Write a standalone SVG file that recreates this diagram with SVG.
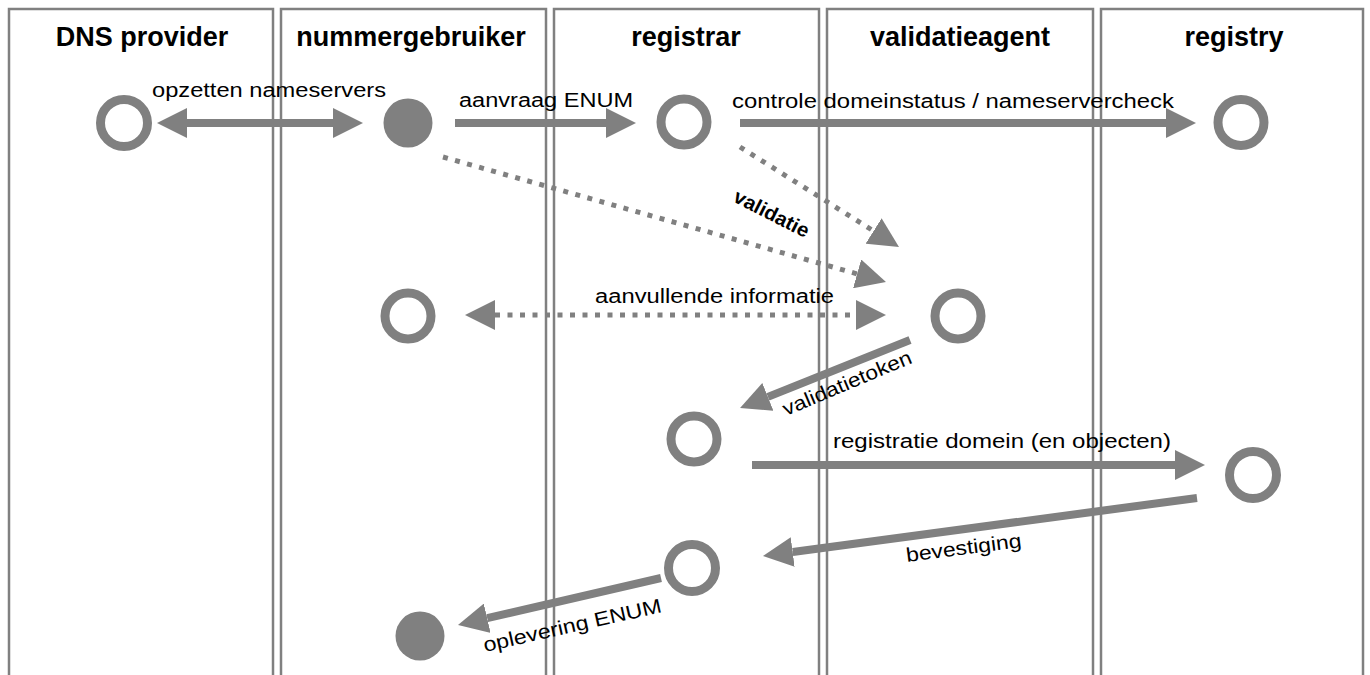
<svg xmlns="http://www.w3.org/2000/svg" width="1370" height="675" viewBox="0 0 1370 675">
<defs>
<style>
.lane{fill:none;stroke:#808080;stroke-width:2.5}
.hdr{font-family:"Liberation Sans",Arial,sans-serif;font-size:27px;font-weight:bold;fill:#000;text-anchor:middle}
.lbl{font-family:"Liberation Sans",Arial,sans-serif;font-size:20px;fill:#000}
.ring{fill:none;stroke:#808080;stroke-width:9}
.dot{fill:#808080}
.solid{fill:none;stroke:#808080;stroke-width:8}
.dash{fill:none;stroke:#808080;stroke-width:5;stroke-dasharray:5 7.5}
</style>
<marker id="ah" markerUnits="userSpaceOnUse" markerWidth="30" markerHeight="30" viewBox="0 0 30 30" refX="0" refY="15" orient="auto-start-reverse">
<path d="M0,0 L30,15 L0,30 z" fill="#808080"/>
</marker>
</defs>
<rect width="1370" height="675" fill="#fff"/>
<g id="lanes">
<g id="lane-dns"><rect class="lane" x="9" y="9" width="264" height="700"/><text class="hdr" x="142" y="46">DNS provider</text></g>
<g id="lane-nummergebruiker"><rect class="lane" x="281" y="9" width="265" height="700"/><text class="hdr" x="411" y="46">nummergebruiker</text></g>
<g id="lane-registrar"><rect class="lane" x="554" y="9" width="265" height="700"/><text class="hdr" x="686" y="46">registrar</text></g>
<g id="lane-validatieagent"><rect class="lane" x="827" y="9" width="266" height="700"/><text class="hdr" x="960" y="46">validatieagent</text></g>
<g id="lane-registry"><rect class="lane" x="1101" y="9" width="262" height="700"/><text class="hdr" x="1234" y="46">registry</text></g>
</g>
<g id="connectors">
<line class="solid" x1="187" y1="123" x2="333" y2="123" marker-start="url(#ah)" marker-end="url(#ah)"/>
<line class="solid" x1="455" y1="123" x2="606" y2="123" marker-end="url(#ah)"/>
<line class="solid" x1="740" y1="123" x2="1166" y2="123" marker-end="url(#ah)"/>
<line class="dash" x1="740" y1="147" x2="873.6" y2="231" marker-end="url(#ah)"/>
<line class="dash" x1="443" y1="157" x2="857.1" y2="273.9" marker-end="url(#ah)"/>
<line class="dash" x1="495" y1="315" x2="856" y2="315" marker-start="url(#ah)" marker-end="url(#ah)"/>
<line class="solid" x1="910" y1="340" x2="767.9" y2="396.9" marker-end="url(#ah)"/>
<line class="solid" x1="752" y1="465" x2="1175" y2="465" marker-end="url(#ah)"/>
<line class="solid" x1="1197" y1="498" x2="792.7" y2="552" marker-end="url(#ah)"/>
<line class="solid" x1="661" y1="578" x2="487.2" y2="618.2" marker-end="url(#ah)"/>
</g>
<g id="labels">
<text class="lbl" x="152" y="97" textLength="234" lengthAdjust="spacingAndGlyphs">opzetten nameservers</text>
<text class="lbl" x="459" y="107" textLength="174" lengthAdjust="spacingAndGlyphs">aanvraag ENUM</text>
<text class="lbl" x="732" y="108" textLength="442" lengthAdjust="spacingAndGlyphs">controle domeinstatus / nameservercheck</text>
<text class="lbl" x="0" y="0" font-size="16" font-weight="bold" textLength="82" lengthAdjust="spacingAndGlyphs" transform="translate(732,201) rotate(27)">validatie</text>
<text class="lbl" x="595" y="303" textLength="239" lengthAdjust="spacingAndGlyphs">aanvullende informatie</text>
<text class="lbl" x="0" y="0" font-size="18" textLength="138" lengthAdjust="spacingAndGlyphs" transform="translate(786,416) rotate(-22.8)">validatietoken</text>
<text class="lbl" x="833" y="448" textLength="338" lengthAdjust="spacingAndGlyphs">registratie domein (en objecten)</text>
<text class="lbl" x="0" y="0" font-size="19" textLength="116" lengthAdjust="spacingAndGlyphs" transform="translate(907,562) rotate(-7.4)">bevestiging</text>
<text class="lbl" x="0" y="0" font-size="21" textLength="182" lengthAdjust="spacingAndGlyphs" transform="translate(485,652) rotate(-12.7)">oplevering ENUM</text>
</g>
<g id="n-dns-1"><circle class="ring" cx="124" cy="123" r="23.5"/></g>
<g id="n-num-1"><circle class="dot" cx="408" cy="123" r="24.5"/></g>
<g id="n-reg-1"><circle class="ring" cx="684" cy="122" r="23"/></g>
<g id="n-registry-1"><circle class="ring" cx="1241" cy="122.5" r="23"/></g>
<g id="n-num-2"><circle class="ring" cx="408" cy="316" r="23"/></g>
<g id="n-val-1"><circle class="ring" cx="958" cy="316" r="23"/></g>
<g id="n-reg-2"><circle class="ring" cx="694" cy="439" r="23"/></g>
<g id="n-registry-2"><circle class="ring" cx="1253" cy="475" r="23.5"/></g>
<g id="n-reg-3"><circle class="ring" cx="692" cy="568" r="23.5"/></g>
<g id="n-num-3"><circle class="dot" cx="420" cy="636" r="24.5"/></g>
</svg>
